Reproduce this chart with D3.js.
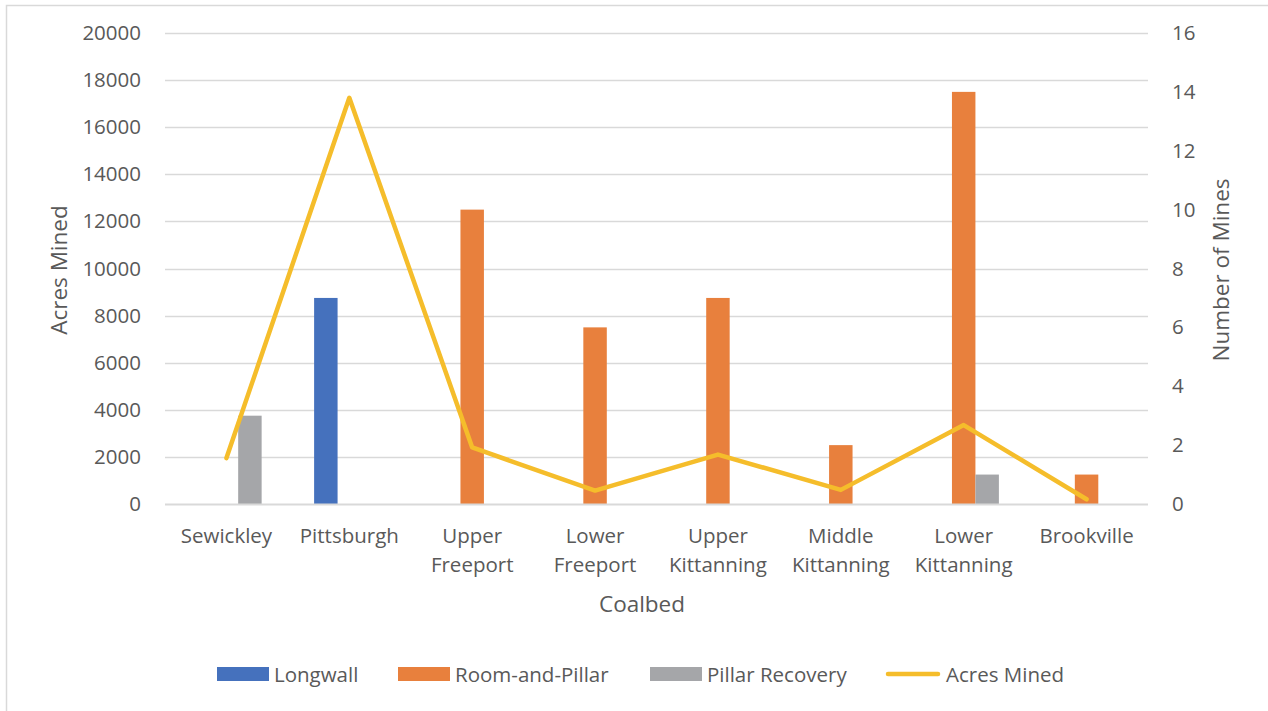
<!DOCTYPE html>
<html>
<head>
<meta charset="utf-8">
<script src="https://cdn.jsdelivr.net/npm/d3@7"></script>
<style>
  html, body { margin: 0; padding: 0; background: #fff; }
  svg text { font-family: "Open Sans", "Noto Sans", sans-serif; fill: #595959; }
</style>
</head>
<body>
<svg id="chart" width="1268" height="711"></svg>
<script>
// Coalbeds (two-line labels where the name wraps)
const categories = ["Sewickley", "Pittsburgh", "Upper Freeport", "Lower Freeport",
  "Upper Kittanning", "Middle Kittanning", "Lower Kittanning", "Brookville"];
const categoryLines = [["Sewickley"], ["Pittsburgh"], ["Upper", "Freeport"], ["Lower", "Freeport"],
  ["Upper", "Kittanning"], ["Middle", "Kittanning"], ["Lower", "Kittanning"], ["Brookville"]];

// Number of mines by mining method (right axis)
const longwall       = [0, 7, 0, 0, 0, 0, 0, 0];
const roomAndPillar  = [0, 0, 10, 6, 7, 2, 14, 1];
const pillarRecovery = [3, 0, 0, 0, 0, 0, 1, 0];

// Acres mined per coalbed (left axis)
const acresMined = [1950, 17250, 2400, 570, 2100, 600, 3350, 200];

const leftTicks  = [0, 2000, 4000, 6000, 8000, 10000, 12000, 14000, 16000, 18000, 20000];
const rightTicks = [0, 2, 4, 6, 8, 10, 12, 14, 16];

const seriesNames  = ["Longwall", "Room-and-Pillar", "Pillar Recovery"];
const seriesValues = [longwall, roomAndPillar, pillarRecovery];
const seriesColors = ["#4571BD", "#E8803D", "#A5A6A9"];
const lineColor = "#F5BD2B";

const svg = d3.select("#chart");

// Outer chart frame
svg.append("rect")
  .attr("x", 6.5).attr("y", 5.5).attr("width", 1300).attr("height", 760)
  .attr("fill", "none").attr("stroke", "#D9D9D9").attr("stroke-width", 1.5);

const plot = { left: 165, right: 1148, top: 33, bottom: 504 };

const x = d3.scaleBand().domain(categories).range([plot.left, plot.right]).padding(0);
const groupHalf = 35.2;
const xInner = d3.scaleBand().domain(seriesNames).range([-groupHalf, groupHalf]).padding(0);
const yLeft  = d3.scaleLinear().domain([0, 20000]).range([plot.bottom, plot.top]);
const yRight = d3.scaleLinear().domain([0, 16]).range([plot.bottom, plot.top]);

// Gridlines
svg.append("g").selectAll("line").data(leftTicks.filter(d => d > 0)).join("line")
  .attr("x1", plot.left).attr("x2", plot.right)
  .attr("y1", d => Math.round(yLeft(d)) + 0.5).attr("y2", d => Math.round(yLeft(d)) + 0.5)
  .attr("stroke", "#D9D9D9").attr("stroke-width", 1.3);

// Left axis
const leftAxis = svg.append("g")
  .attr("transform", `translate(${plot.left},0)`)
  .call(d3.axisLeft(yLeft).tickValues(leftTicks).tickSize(0).tickPadding(24).tickFormat(d3.format("d")));
leftAxis.select(".domain").remove();
leftAxis.selectAll("text").style("font-size", "20.5px").attr("fill", "#595959");

// Right axis
const rightAxis = svg.append("g")
  .attr("transform", `translate(${plot.right},0)`)
  .call(d3.axisRight(yRight).tickValues(rightTicks).tickSize(0).tickPadding(24).tickFormat(d3.format("d")));
rightAxis.select(".domain").remove();
rightAxis.selectAll("text").style("font-size", "20.5px").attr("fill", "#595959");

// Bars
const groups = svg.append("g").selectAll("g").data(seriesNames).join("g")
  .attr("fill", (d, i) => seriesColors[i]);
groups.selectAll("rect")
  .data((s, si) => categories.map((c, ci) => ({ s, c, v: seriesValues[si][ci] })).filter(d => d.v > 0))
  .join("rect")
  .attr("x", d => x(d.c) + x.bandwidth() / 2 + xInner(d.s))
  .attr("width", xInner.bandwidth())
  .attr("y", d => yRight(d.v))
  .attr("height", d => yRight(0) - yRight(d.v));

// Category axis baseline
svg.append("line")
  .attr("x1", plot.left).attr("x2", plot.right)
  .attr("y1", plot.bottom + 0.5).attr("y2", plot.bottom + 0.5)
  .attr("stroke", "#D9D9D9").attr("stroke-width", 2);

// Acres mined line
const line = d3.line()
  .x((d, i) => x(categories[i]) + x.bandwidth() / 2)
  .y(d => yLeft(d));
svg.append("path")
  .datum(acresMined)
  .attr("d", line)
  .attr("fill", "none").attr("stroke", lineColor)
  .attr("stroke-width", 4.5).attr("stroke-linejoin", "round").attr("stroke-linecap", "round");

// Category labels
const catLabels = svg.append("g").selectAll("text").data(categories).join("text")
  .attr("text-anchor", "middle")
  .attr("x", d => x(d) + x.bandwidth() / 2)
  .attr("y", 543)
  .style("font-size", "20.5px");
catLabels.selectAll("tspan").data((d, i) => categoryLines[i]).join("tspan")
  .attr("x", function () { return this.parentNode.getAttribute("x"); })
  .attr("dy", (d, i) => i === 0 ? 0 : 29)
  .text(d => d);

// Axis titles
svg.append("text").attr("text-anchor", "middle")
  .attr("transform", "translate(67,270) rotate(-90)")
  .style("font-size", "22.5px").text("Acres Mined");
svg.append("text").attr("text-anchor", "middle")
  .attr("transform", "translate(1229,270) rotate(-90)")
  .style("font-size", "22.5px").text("Number of Mines");
svg.append("text").attr("text-anchor", "middle")
  .attr("x", 642).attr("y", 612)
  .style("font-size", "22.5px").text("Coalbed");

// Legend
const legendItems = [
  { name: "Longwall", color: seriesColors[0], type: "bar", x: 217 },
  { name: "Room-and-Pillar", color: seriesColors[1], type: "bar", x: 398 },
  { name: "Pillar Recovery", color: seriesColors[2], type: "bar", x: 650 },
  { name: "Acres Mined", color: lineColor, type: "line", x: 886 }
];
const legend = svg.append("g").selectAll("g").data(legendItems).join("g")
  .attr("transform", d => `translate(${d.x},674)`);
legend.filter(d => d.type === "bar").append("rect")
  .attr("x", 0).attr("y", -7).attr("width", 52).attr("height", 14)
  .attr("fill", d => d.color);
legend.filter(d => d.type === "line").append("line")
  .attr("x1", 2).attr("x2", 52).attr("y1", 0).attr("y2", 0)
  .attr("stroke", d => d.color).attr("stroke-width", 4.5).attr("stroke-linecap", "round");
legend.append("text")
  .attr("x", d => d.type === "line" ? 60 : 57)
  .attr("y", 7.5)
  .style("font-size", "20.5px")
  .text(d => d.name);
</script>
</body>
</html>
